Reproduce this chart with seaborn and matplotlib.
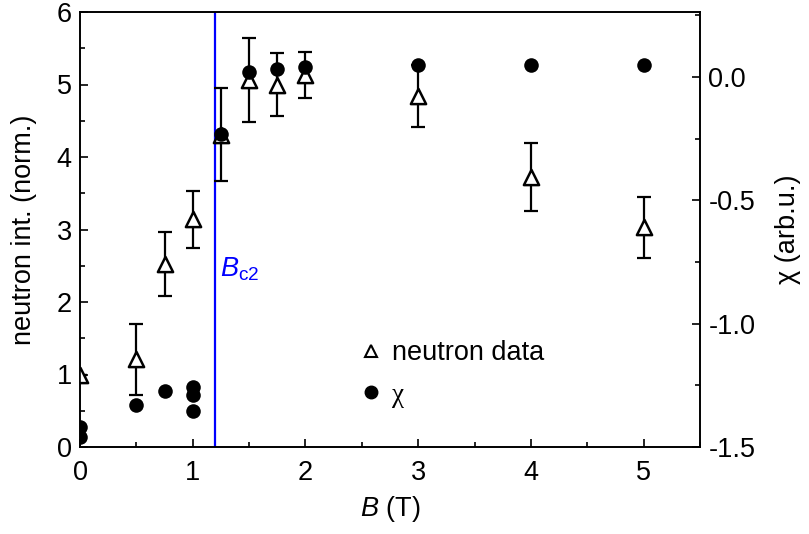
import numpy as np
import pandas as pd
import matplotlib
matplotlib.use("Agg")
import matplotlib.pyplot as plt
from matplotlib.lines import Line2D
from matplotlib.ticker import MultipleLocator
import seaborn as sns

# ---- data ----
neutron_B = [0.0, 0.5, 0.75, 1.0, 1.25, 1.5, 1.75, 2.0, 3.0, 4.0, 5.0]
neutron_I = [1.0, 1.21, 2.52, 3.14, 4.31, 5.06, 5.0, 5.13, 4.84, 3.73, 3.03]
neutron_err = [0.0, 0.49, 0.44, 0.39, 0.64, 0.58, 0.44, 0.32, 0.43, 0.47, 0.42]

chi_B = [0.0, 0.0, 0.5, 0.75, 1.0, 1.0, 1.0, 1.25, 1.5, 1.75, 2.0, 3.0, 4.0, 5.0]
chi_val = [-1.42, -1.46, -1.33, -1.272, -1.255, -1.289, -1.353, -0.23, 0.021, 0.031, 0.039, 0.049, 0.049, 0.049]

Bc2 = 1.2

left_ticks = [0, 1, 2, 3, 4, 5, 6]
right_ticks = [-1.5, -1.0, -0.5, 0.0]
x_ticks = [0, 1, 2, 3, 4, 5]

sns.set_style("ticks")
plt.rcParams['font.family'] = ['Liberation Sans', 'DejaVu Sans']
plt.rcParams['mathtext.fontset'] = 'custom'
plt.rcParams['mathtext.rm'] = 'Liberation Sans'
plt.rcParams['mathtext.it'] = 'Liberation Sans:italic'
plt.rcParams['text.color'] = 'black'
plt.rcParams['axes.labelcolor'] = 'black'
plt.rcParams['xtick.color'] = 'black'
plt.rcParams['ytick.color'] = 'black'

FS = 19.5
fig = plt.figure(figsize=(8.09, 5.34), dpi=100)
ax = fig.add_axes([80/809, 1-447/534, (700-80)/809, (447-12)/534])
ax2 = ax.twinx()

ndf = pd.DataFrame({"B": neutron_B, "I": neutron_I, "err": neutron_err})
cdf = pd.DataFrame({"B": chi_B, "chi": chi_val})

# error bars
ax.errorbar(ndf["B"], ndf["I"], yerr=ndf["err"], fmt='none', ecolor='black',
            elinewidth=1.6, capsize=5, capthick=1.6, zorder=2)
sns.scatterplot(data=ndf, x="B", y="I", ax=ax, marker='^', s=120,
                facecolor='white', edgecolor='black', linewidth=1.8, zorder=3, legend=False)
ax.axvline(Bc2, color='#0000ff', lw=1.6, zorder=1)

sns.scatterplot(data=cdf, x="B", y="chi", ax=ax2, marker='o', s=110,
                color='black', edgecolor='black', linewidth=0, zorder=4, legend=False)

ax.set_xlim(0, 5.5)
ax.set_ylim(0, 6)
ax2.set_ylim(-1.5, 0.263)

ax.set_xticks(x_ticks)
ax.set_yticks(left_ticks)
ax2.set_yticks(right_ticks)
ax2.set_yticklabels([f"{v:.1f}" for v in right_ticks])
ax.xaxis.set_minor_locator(MultipleLocator(0.5))
ax.yaxis.set_minor_locator(MultipleLocator(0.5))
ax2.yaxis.set_minor_locator(MultipleLocator(0.25))

for a in (ax, ax2):
    a.tick_params(which='major', direction='in', length=6, width=1.2, labelsize=FS, pad=6)
    a.tick_params(which='minor', direction='in', length=3.5, width=1.2)
    for s in a.spines.values():
        s.set_linewidth(1.2)
        s.set_color('black')
ax.tick_params(axis='x', which='major', pad=9)
ax.tick_params(axis='x', which='both', top=False)
ax.tick_params(axis='y', which='both', right=False)
ax2.tick_params(axis='y', which='both', left=False, right=True)

ax.set_xlabel(r"$\it{B}$ (T)", fontsize=FS, labelpad=6)
ax.set_ylabel("neutron int. (norm.)", fontsize=FS, labelpad=14)
ax2.set_ylabel("χ (arb.u.)", fontsize=FS, labelpad=14)

ax.text(Bc2 + 0.04, 2.45, r"$B_{\mathrm{c2}}$", color='#0000ff', fontsize=FS,
        ha='left', va='center')

handles = [
    Line2D([], [], marker='^', ls='none', markerfacecolor='white', markeredgecolor='black',
           markeredgewidth=1.5, markersize=8),
    Line2D([], [], marker='o', ls='none', color='black', markersize=9),
]
leg = fig.legend(handles, ["neutron data", "χ"], loc='upper left',
                 bbox_to_anchor=(330/809, 1-316/534), frameon=False, fontsize=FS,
                 handletextpad=0.2, labelspacing=0.6, handlelength=1.2)
leg.get_texts()[1].set_family(['Liberation Serif', 'DejaVu Serif'])

fig.savefig("out.png", dpi=100)
